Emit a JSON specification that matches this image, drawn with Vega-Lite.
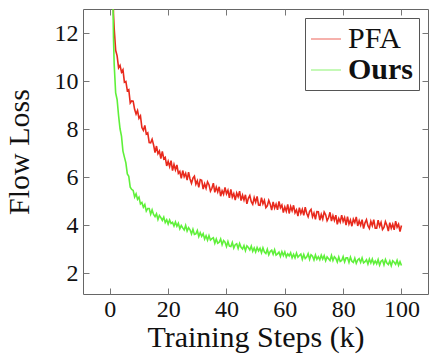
{
"$schema": "https://vega.github.io/schema/vega-lite/v6.json",
"width": 345, "height": 285,
"autosize": {"type": "none"},
"padding": {"left": 83, "top": 9, "right": 2, "bottom": 64},
"background": "white",
"config": {
 "view": {"stroke": "#666", "strokeWidth": 1},
 "font": "Liberation Serif",
 "axis": {"domain": false, "grid": false, "ticks": true, "tickSize": -6, "tickColor": "#777", "labelFont": "Liberation Serif", "labelFontSize": 24, "labelColor": "#111", "titleFont": "Liberation Serif", "titleFontSize": 30, "titleFontWeight": "normal", "titleColor": "#111"},
 "legend": {"labelFont": "Liberation Serif"}
},
"data": {"values": [
{"x":0.9,"PFA":18,"Ours":18},{"x":1.0,"PFA":14.5,"Ours":14},{"x":1.25,"PFA":12.8,"Ours":11.8},
{"x":1.5,"PFA":12.18,"Ours":10.68},{"x":2.0,"PFA":11.28,"Ours":9.5},{"x":2.5,"PFA":11.05,"Ours":9.22},{"x":3.0,"PFA":10.55,"Ours":8.56},{"x":3.5,"PFA":10.65,"Ours":8.01},{"x":4.0,"PFA":10.37,"Ours":7.7},{"x":4.5,"PFA":10.47,"Ours":7.08},{"x":5.0,"PFA":9.95,"Ours":6.83},{"x":5.5,"PFA":9.98,"Ours":6.59},{"x":6.0,"PFA":9.6,"Ours":6.13},
{"x":6.5,"PFA":9.64,"Ours":6.03},{"x":7.0,"PFA":9.08,"Ours":5.57},{"x":7.5,"PFA":9.17,"Ours":5.48},{"x":8.0,"PFA":9.16,"Ours":5.44},{"x":8.5,"PFA":8.82,"Ours":5.17},{"x":9.0,"PFA":8.62,"Ours":5.3},{"x":9.5,"PFA":8.77,"Ours":5.07},{"x":10.0,"PFA":8.45,"Ours":5.16},{"x":10.5,"PFA":8.55,"Ours":4.88},{"x":11.0,"PFA":8.06,"Ours":4.94},
{"x":11.5,"PFA":7.94,"Ours":4.74},{"x":12.0,"PFA":8.15,"Ours":4.85},{"x":12.5,"PFA":7.79,"Ours":4.58},{"x":13.0,"PFA":7.84,"Ours":4.69},{"x":13.5,"PFA":7.43,"Ours":4.69},{"x":14.0,"PFA":7.42,"Ours":4.45},{"x":14.5,"PFA":7.57,"Ours":4.63},{"x":15.0,"PFA":7.34,"Ours":4.44},{"x":15.5,"PFA":7.02,"Ours":4.35},{"x":16.0,"PFA":7.29,"Ours":4.47},
{"x":16.5,"PFA":6.97,"Ours":4.23},{"x":17.0,"PFA":7.08,"Ours":4.4},{"x":17.5,"PFA":6.77,"Ours":4.31},{"x":18.0,"PFA":7.07,"Ours":4.19},{"x":18.5,"PFA":6.76,"Ours":4.33},{"x":19.0,"PFA":6.82,"Ours":4.1},{"x":19.5,"PFA":6.46,"Ours":4.22},{"x":20.0,"PFA":6.65,"Ours":4.04},{"x":20.5,"PFA":6.43,"Ours":4.21},{"x":21.0,"PFA":6.68,"Ours":4.06},
{"x":21.5,"PFA":6.27,"Ours":4.11},{"x":22.0,"PFA":6.52,"Ours":3.96},{"x":22.5,"PFA":6.3,"Ours":4.13},{"x":23.0,"PFA":6.5,"Ours":3.95},{"x":23.5,"PFA":6.15,"Ours":4.07},{"x":24.0,"PFA":6.23,"Ours":3.84},{"x":24.5,"PFA":5.94,"Ours":3.98},{"x":25.0,"PFA":6.27,"Ours":3.88},{"x":25.5,"PFA":6.01,"Ours":3.79},{"x":26.0,"PFA":6.15,"Ours":3.98},
{"x":26.5,"PFA":5.87,"Ours":3.75},{"x":27.0,"PFA":6.2,"Ours":3.89},{"x":27.5,"PFA":5.92,"Ours":3.8},{"x":28.0,"PFA":5.74,"Ours":3.63},{"x":28.5,"PFA":5.95,"Ours":3.82},{"x":29.0,"PFA":6.03,"Ours":3.61},{"x":29.5,"PFA":5.7,"Ours":3.63},{"x":30.0,"PFA":5.85,"Ours":3.77},{"x":30.5,"PFA":5.57,"Ours":3.52},{"x":31.0,"PFA":5.89,"Ours":3.68},
{"x":31.5,"PFA":5.86,"Ours":3.53},{"x":32.0,"PFA":5.5,"Ours":3.64},{"x":32.5,"PFA":5.72,"Ours":3.41},{"x":33.0,"PFA":5.53,"Ours":3.55},{"x":33.5,"PFA":5.8,"Ours":3.37},{"x":34.0,"PFA":5.68,"Ours":3.56},{"x":34.5,"PFA":5.41,"Ours":3.37},{"x":35.0,"PFA":5.53,"Ours":3.43},{"x":35.5,"PFA":5.74,"Ours":3.47},{"x":36.0,"PFA":5.36,"Ours":3.24},
{"x":36.5,"PFA":5.58,"Ours":3.42},{"x":37.0,"PFA":5.38,"Ours":3.24},{"x":37.5,"PFA":5.59,"Ours":3.28},{"x":38.0,"PFA":5.2,"Ours":3.42},{"x":38.5,"PFA":5.43,"Ours":3.18},{"x":39.0,"PFA":5.28,"Ours":3.35},{"x":39.5,"PFA":5.57,"Ours":3.28},{"x":40.0,"PFA":5.3,"Ours":3.1},{"x":40.5,"PFA":5.45,"Ours":3.31},{"x":41.0,"PFA":5.13,"Ours":3.12},
{"x":41.5,"PFA":5.48,"Ours":3.1},{"x":42.0,"PFA":5.16,"Ours":3.27},{"x":42.5,"PFA":5.31,"Ours":3.04},{"x":43.0,"PFA":5.04,"Ours":3.18},{"x":43.5,"PFA":5.33,"Ours":3.22},{"x":44.0,"PFA":5.18,"Ours":3.02},{"x":44.5,"PFA":5.41,"Ours":3.23},{"x":45.0,"PFA":5.02,"Ours":3.07},{"x":45.5,"PFA":5.24,"Ours":3.0},{"x":46.0,"PFA":5.04,"Ours":3.14},
{"x":46.5,"PFA":5.26,"Ours":2.93},{"x":47.0,"PFA":4.88,"Ours":3.13},{"x":47.5,"PFA":5.11,"Ours":3.06},{"x":48.0,"PFA":5.23,"Ours":2.96},{"x":48.5,"PFA":4.97,"Ours":3.12},{"x":49.0,"PFA":4.86,"Ours":2.9},{"x":49.5,"PFA":5.14,"Ours":3.04},{"x":50.0,"PFA":4.95,"Ours":2.87},{"x":50.5,"PFA":5.19,"Ours":3.06},{"x":51.0,"PFA":4.83,"Ours":2.92},
{"x":51.5,"PFA":4.82,"Ours":3.03},{"x":52.0,"PFA":5.14,"Ours":2.84},{"x":52.5,"PFA":4.88,"Ours":3.05},{"x":53.0,"PFA":5.03,"Ours":2.87},{"x":53.5,"PFA":4.72,"Ours":2.81},{"x":54.0,"PFA":4.8,"Ours":2.99},{"x":54.5,"PFA":5.03,"Ours":2.76},{"x":55.0,"PFA":4.87,"Ours":2.9},{"x":55.5,"PFA":4.62,"Ours":2.95},{"x":56.0,"PFA":4.96,"Ours":2.78},
{"x":56.5,"PFA":4.71,"Ours":2.97},{"x":57.0,"PFA":4.87,"Ours":2.75},{"x":57.5,"PFA":4.63,"Ours":2.8},{"x":58.0,"PFA":4.98,"Ours":2.87},{"x":58.5,"PFA":4.72,"Ours":2.69},{"x":59.0,"PFA":4.83,"Ours":2.89},{"x":59.5,"PFA":4.52,"Ours":2.73},{"x":60.0,"PFA":4.75,"Ours":2.88},{"x":60.5,"PFA":4.57,"Ours":2.67},{"x":61.0,"PFA":4.86,"Ours":2.8},
{"x":61.5,"PFA":4.48,"Ours":2.71},{"x":62.0,"PFA":4.77,"Ours":2.84},{"x":62.5,"PFA":4.59,"Ours":2.63},{"x":63.0,"PFA":4.82,"Ours":2.78},{"x":63.5,"PFA":4.51,"Ours":2.63},{"x":64.0,"PFA":4.63,"Ours":2.83},{"x":64.5,"PFA":4.37,"Ours":2.66},{"x":65.0,"PFA":4.72,"Ours":2.73},{"x":65.5,"PFA":4.48,"Ours":2.79},{"x":66.0,"PFA":4.65,"Ours":2.57},
{"x":66.5,"PFA":4.4,"Ours":2.77},{"x":67.0,"PFA":4.74,"Ours":2.6},{"x":67.5,"PFA":4.49,"Ours":2.66},{"x":68.0,"PFA":4.34,"Ours":2.8},{"x":68.5,"PFA":4.57,"Ours":2.57},{"x":69.0,"PFA":4.65,"Ours":2.76},{"x":69.5,"PFA":4.34,"Ours":2.7},{"x":70.0,"PFA":4.5,"Ours":2.54},{"x":70.5,"PFA":4.24,"Ours":2.75},{"x":71.0,"PFA":4.56,"Ours":2.57},
{"x":71.5,"PFA":4.55,"Ours":2.68},{"x":72.0,"PFA":4.2,"Ours":2.55},{"x":72.5,"PFA":4.44,"Ours":2.74},{"x":73.0,"PFA":4.25,"Ours":2.58},{"x":73.5,"PFA":4.54,"Ours":2.72},{"x":74.0,"PFA":4.43,"Ours":2.51},{"x":74.5,"PFA":4.18,"Ours":2.67},{"x":75.0,"PFA":4.3,"Ours":2.59},{"x":75.5,"PFA":4.53,"Ours":2.52},{"x":76.0,"PFA":4.16,"Ours":2.73},
{"x":76.5,"PFA":4.39,"Ours":2.52},{"x":77.0,"PFA":4.19,"Ours":2.68},{"x":77.5,"PFA":4.41,"Ours":2.61},{"x":78.0,"PFA":4.03,"Ours":2.46},{"x":78.5,"PFA":4.27,"Ours":2.67},{"x":79.0,"PFA":4.12,"Ours":2.48},{"x":79.5,"PFA":4.41,"Ours":2.52},{"x":80.0,"PFA":4.15,"Ours":2.68},{"x":80.5,"PFA":4.31,"Ours":2.46},{"x":81.0,"PFA":4.0,"Ours":2.63},
{"x":81.5,"PFA":4.35,"Ours":2.63},{"x":82.0,"PFA":4.04,"Ours":2.44},{"x":82.5,"PFA":4.21,"Ours":2.66},{"x":83.0,"PFA":3.95,"Ours":2.49},{"x":83.5,"PFA":4.24,"Ours":2.44},{"x":84.0,"PFA":4.1,"Ours":2.62},{"x":84.5,"PFA":4.34,"Ours":2.4},{"x":85.0,"PFA":3.96,"Ours":2.54},{"x":85.5,"PFA":4.18,"Ours":2.6},{"x":86.0,"PFA":3.99,"Ours":2.44},
{"x":86.5,"PFA":4.22,"Ours":2.63},{"x":87.0,"PFA":3.85,"Ours":2.42},{"x":87.5,"PFA":4.09,"Ours":2.47},{"x":88.0,"PFA":4.22,"Ours":2.55},{"x":88.5,"PFA":3.97,"Ours":2.37},{"x":89.0,"PFA":3.86,"Ours":2.58},{"x":89.5,"PFA":4.15,"Ours":2.42},{"x":90.0,"PFA":3.97,"Ours":2.58},{"x":90.5,"PFA":4.22,"Ours":2.38},{"x":91.0,"PFA":3.87,"Ours":2.5},
{"x":91.5,"PFA":3.87,"Ours":2.38},{"x":92.0,"PFA":4.2,"Ours":2.56},{"x":92.5,"PFA":3.95,"Ours":2.33},{"x":93.0,"PFA":4.11,"Ours":2.49},{"x":93.5,"PFA":3.81,"Ours":2.54},{"x":94.0,"PFA":3.9,"Ours":2.34},{"x":94.5,"PFA":4.14,"Ours":2.56},{"x":95.0,"PFA":3.99,"Ours":2.41},{"x":95.5,"PFA":3.75,"Ours":2.35},{"x":96.0,"PFA":4.1,"Ours":2.5},
{"x":96.5,"PFA":3.86,"Ours":2.3},{"x":97.0,"PFA":4.03,"Ours":2.51},{"x":97.5,"PFA":3.8,"Ours":2.45},{"x":98.0,"PFA":4.16,"Ours":2.36},{"x":98.5,"PFA":3.91,"Ours":2.53},{"x":99.0,"PFA":4.03,"Ours":2.32},{"x":99.5,"PFA":3.73,"Ours":2.47},{"x":100.0,"PFA":3.98,"Ours":2.31}
]},
"transform": [{"fold": ["PFA", "Ours"], "as": ["series", "loss"]}],
"layer": [
 {"mark": {"type": "line", "strokeWidth": 1.6, "clip": true},
  "encoding": {
   "x": {"field": "x", "type": "quantitative", "scale": {"domain": [-9.2, 109.1], "nice": false, "zero": false}, "axis": {"orient": "bottom", "values": [0, 20, 40, 60, 80, 100], "title": "Training Steps (k)", "labelPadding": 9, "titlePadding": 1, "labelFont": "Liberation Serif"}},
   "y": {"field": "loss", "type": "quantitative", "scale": {"domain": [1.125, 13], "nice": false, "zero": false}, "axis": {"orient": "left", "values": [2, 4, 6, 8, 10, 12], "title": "Flow Loss", "labelPadding": 11, "titlePadding": 20, "labelFont": "Liberation Serif"}},
   "color": {"field": "series", "type": "nominal", "sort": ["PFA", "Ours"], "scale": {"domain": ["PFA", "Ours"], "range": ["#e8291c", "#5ff03a"]},
     "legend": {"orient": "top-right", "offset": 9, "title": null, "symbolType": "stroke", "symbolSize": 900, "symbolStrokeWidth": 1.2, "symbolOpacity": 0.6, "symbolOffset": 0, "labelFont": "Liberation Serif", "labelFontSize": 30, "labelColor": "#111", "labelFontWeight": {"expr": "datum.value == 'Ours' ? 'bold' : 'normal'"}, "labelOffset": 6, "rowPadding": 0, "padding": 5, "strokeColor": "#555", "fillColor": "white"}}
  }},
 {"mark": {"type": "point", "opacity": 0, "clip": true},
  "encoding": {
   "x": {"field": "x", "type": "quantitative", "axis": {"orient": "top", "values": [0, 20, 40, 60, 80, 100], "labels": false, "title": null}},
   "y": {"field": "loss", "type": "quantitative", "axis": {"orient": "right", "values": [2, 4, 6, 8, 10, 12], "labels": false, "title": null}}
  }}
],
"resolve": {"axis": {"x": "independent", "y": "independent"}}
}
